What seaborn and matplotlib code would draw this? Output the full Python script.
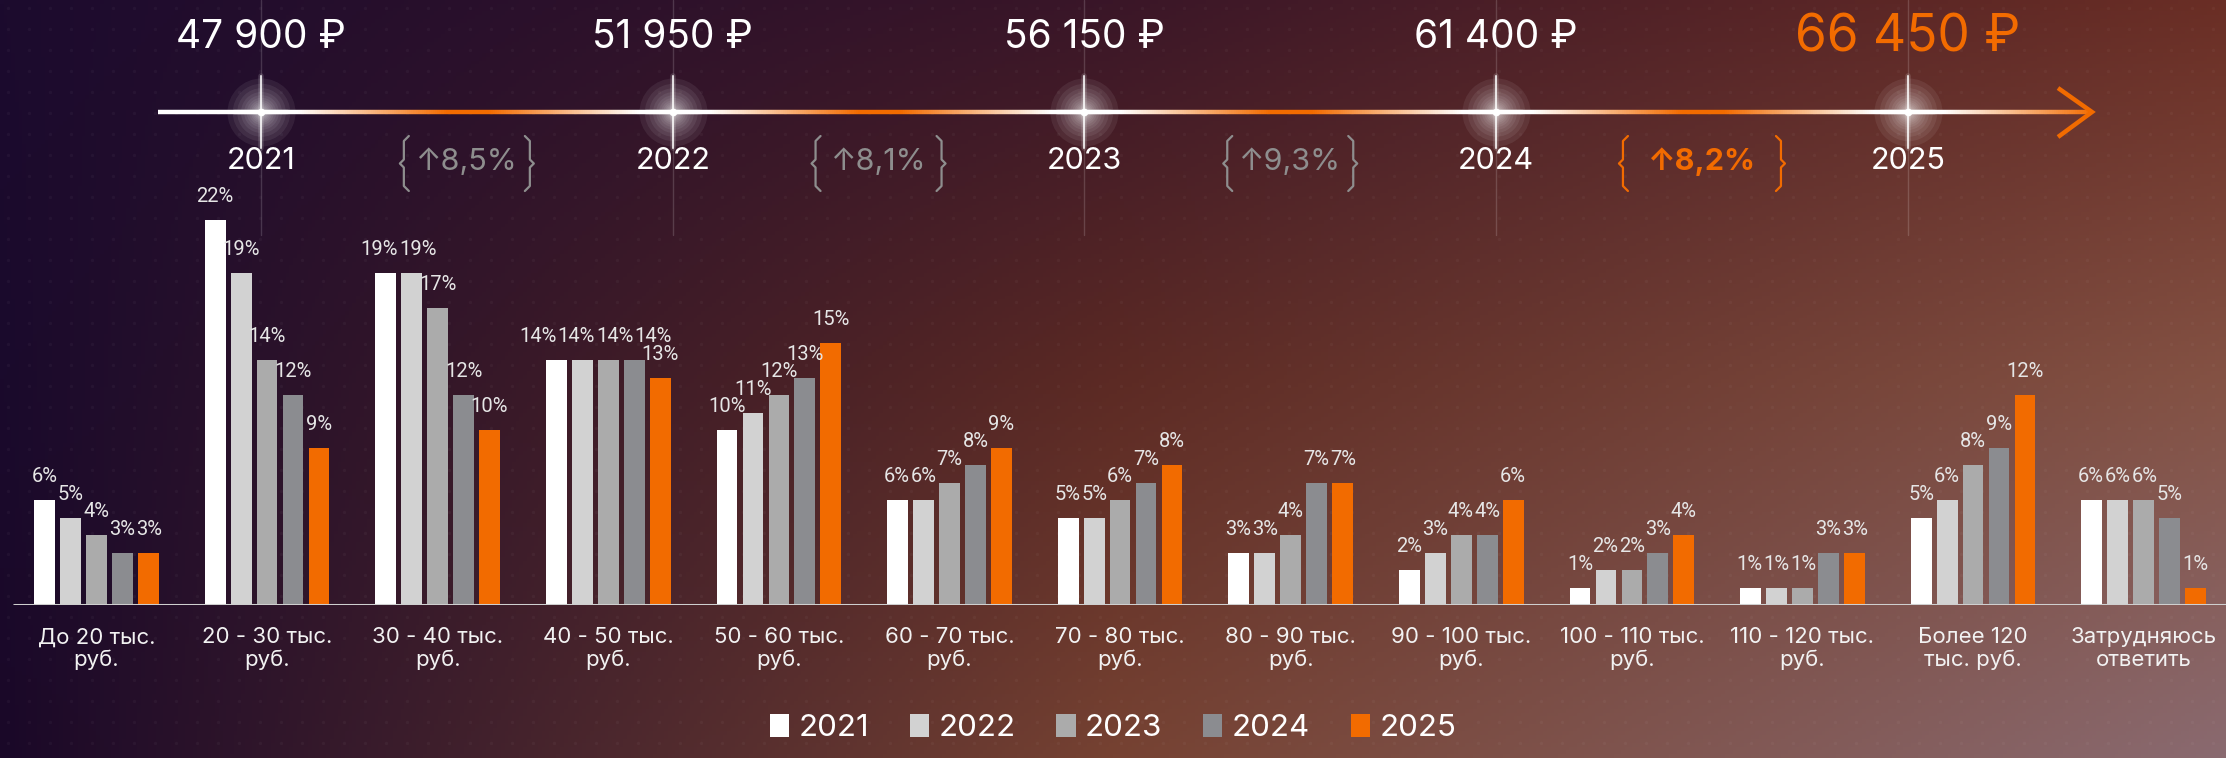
import numpy as np
import pandas as pd
import matplotlib
matplotlib.use("Agg")
import matplotlib.pyplot as plt
import seaborn as sns
from matplotlib.collections import LineCollection
from matplotlib.colors import to_rgb

# ---------------- data ----------------
categories = ["До 20 тыс.\nруб.", "20 - 30 тыс.\nруб.", "30 - 40 тыс.\nруб.",
              "40 - 50 тыс.\nруб.", "50 - 60 тыс.\nруб.", "60 - 70 тыс.\nруб.",
              "70 - 80 тыс.\nруб.", "80 - 90 тыс.\nруб.", "90 - 100 тыс.\nруб.",
              "100 - 110 тыс.\nруб.", "110 - 120 тыс.\nруб.", "Более 120\nтыс. руб.",
              "Затрудняюсь\nответить"]
years = ["2021", "2022", "2023", "2024", "2025"]
v2021 = [6, 22, 19, 14, 10, 6, 5, 3, 2, 1, 1, 5, 6]
v2022 = [5, 19, 19, 14, 11, 6, 5, 3, 3, 2, 1, 6, 6]
v2023 = [4, 14, 17, 14, 12, 7, 6, 4, 4, 2, 1, 8, 6]
v2024 = [3, 12, 12, 14, 13, 8, 7, 7, 4, 3, 3, 9, 5]
v2025 = [3, 9, 10, 13, 15, 9, 8, 7, 6, 4, 3, 12, 1]
salaries = ["47 900 ₽", "51 950 ₽", "56 150 ₽", "61 400 ₽", "66 450 ₽"]
growth = ["↑8,5%", "↑8,1%", "↑9,3%", "↑8,2%"]

colors = ["#ffffff", "#d2d2d2", "#ababab", "#8b8c90", "#f26b00"]
ORANGE = "#f26b00"

rows = []
for y, vals in zip(years, [v2021, v2022, v2023, v2024, v2025]):
    for c, v in zip(categories, vals):
        rows.append({"cat": c, "year": y, "val": v})
df = pd.DataFrame(rows)

# ---------------- figure ----------------
W, H = 2226, 758
sns.set_theme(style="white")
plt.rcParams["font.family"] = ["Inter", "DejaVu Sans"]
fig = plt.figure(figsize=(W / 100, H / 100), dpi=100)

# background gradient
bg = fig.add_axes([0, 0, 1, 1], zorder=-10)
ctrl = np.array([
    [to_rgb("#1c0b2e"), to_rgb("#3a1628"), to_rgb("#6a2e25")],
    [to_rgb("#1a0a2c"), to_rgb("#5c2a24"), to_rgb("#845244")],
    [to_rgb("#1a0828"), to_rgb("#764232"), to_rgb("#8a6a70")],
])
nx, ny = 600, 200
xs = np.linspace(0, 1, nx)
ys = np.linspace(0, 1, ny)
tmp = np.zeros((3, nx, 3))
for r in range(3):
    for ch in range(3):
        tmp[r, :, ch] = np.interp(xs, [0, 0.5, 1], ctrl[r, :, ch])
img = np.zeros((ny, nx, 3))
for ch in range(3):
    for i in range(nx):
        img[:, i, ch] = np.interp(ys, [0, 0.5, 1], tmp[:, i, ch])
bg.imshow(img, extent=[0, W, H, 0], aspect="auto")
gx, gy = np.meshgrid(np.arange(8, W, 21), np.arange(8, H, 21))
bg.scatter(gx.ravel(), gy.ravel(), s=6, color="white", alpha=0.035, linewidths=0)
bg.set_xlim(0, W)
bg.set_ylim(H, 0)
bg.axis("off")

# ---------------- bars ----------------
base_px = 605
top_px = 180
px_per_unit = 17.5
ax = fig.add_axes([0, (H - base_px) / H, 1, (base_px - top_px) / H])
ax.set_facecolor("none")
sns.barplot(data=df, x="cat", y="val", hue="year", order=categories, hue_order=years,
            palette=colors, saturation=1, width=0.76, gap=0.2, linewidth=0,
            ax=ax, legend=True)
pitch = 170.6
c0 = 96.5
xmin = -c0 / pitch
ax.set_xlim(xmin, xmin + W / pitch)
ax.set_ylim(0, (base_px - top_px) / px_per_unit)
for s in ax.spines.values():
    s.set_visible(False)
ax.axhline(0, xmin=14 / W, xmax=1, color="#cfcfcf", lw=2.2, zorder=5)
ax.set_yticks([])
ax.set_xlabel("")
ax.set_ylabel("")
ax.tick_params(axis="x", length=0, pad=16, labelsize=16, labelcolor="#f2f2f2")
for t in ax.get_xticklabels():
    t.set_linespacing(1.15)

# value labels, spread sideways inside each group where they would collide
label_pad_pt = 10
labels_by_group = [[] for _ in categories]
for cont in ax.containers:
    for gi, b in enumerate(cont):
        v = int(round(b.get_height()))
        t = ax.annotate(f"{v}%", xy=(b.get_x() + b.get_width() / 2, b.get_height()),
                        xytext=(0, label_pad_pt), textcoords="offset points",
                        ha="center", va="bottom", fontsize=14.5, color="#e6e6e6",
                        family=["Roboto", "DejaVu Sans"])
        labels_by_group[gi].append(t)

fig.canvas.draw()
renderer = fig.canvas.get_renderer()
for grp in labels_by_group:
    ext = [t.get_window_extent(renderer) for t in grp]
    xc = np.array([(e.x0 + e.x1) / 2 for e in ext])
    wd = np.array([e.width for e in ext])
    yb = np.array([e.y0 for e in ext])
    ht = np.array([e.height for e in ext])
    x0 = xc.copy()
    for _ in range(200):
        moved = False
        for i in range(len(grp) - 1):
            if abs(yb[i] - yb[i + 1]) < 0.8 * ht[i]:
                need = (wd[i] + wd[i + 1]) / 2 + 1 - (xc[i + 1] - xc[i])
                if need > 0.05:
                    xc[i] -= need / 2
                    xc[i + 1] += need / 2
                    moved = True
        if not moved:
            break
    for t, dx in zip(grp, xc - x0):
        t.set_position((dx * 72 / fig.dpi, label_pad_pt))

handles, labels = ax.get_legend_handles_labels()
ax.legend(handles, labels, loc="lower center", bbox_to_anchor=(0.5, 0.0),
          bbox_transform=fig.transFigure, ncol=5, frameon=False, fontsize=22.5,
          handlelength=0.62, handleheight=0.75, handletextpad=0.3,
          columnspacing=1.3, labelcolor="white", borderaxespad=0.1)

# ---------------- timeline ----------------
ov = fig.add_axes([0, 0, 1, 1], zorder=5)
ov.set_xlim(0, W)
ov.set_ylim(H, 0)
ov.axis("off")
ov.set_facecolor("none")

node_x0, node_step = 261, 411.7
nodes = [node_x0 + i * node_step for i in range(len(years))]
line_y = 112

xs_line = np.linspace(158, 2088, 900)
white = np.array([1, 1, 1])
orng = np.array(to_rgb(ORANGE))
cols = []
for x in xs_line:
    d = 0 if x < nodes[0] else min(abs(x - n) for n in nodes)
    w = np.clip(1 - (d - 35) / 150, 0, 1)
    cols.append(w * white + (1 - w) * orng)
pts = np.array([xs_line, np.full_like(xs_line, line_y)]).T.reshape(-1, 1, 2)
segs = np.concatenate([pts[:-1], pts[1:]], axis=1)
ov.add_collection(LineCollection(segs, colors=cols[:-1], linewidths=3.2, capstyle="butt"))
ov.plot([2058, 2092, 2058], [88, line_y, 137], color=ORANGE, lw=3.2,
        solid_joinstyle="miter", solid_capstyle="butt")

glow_sizes = np.geomspace(30, 2400, 14)
for i, n in enumerate(nodes):
    ov.plot([n, n], [0, 235], color="white", alpha=0.16, lw=1)
    for s in glow_sizes:
        ov.scatter([n], [line_y], s=s, color="white", alpha=0.07, linewidths=0, zorder=6)
    ov.scatter([n], [line_y], s=30, color="white", linewidths=0, zorder=7)
    for lw, a in [(4, 0.15), (1.5, 0.8)]:
        ov.plot([n - 26, n + 26], [line_y, line_y], color="white", lw=lw, alpha=a, zorder=6)
        ov.plot([n, n], [line_y - 36, line_y + 36], color="white", lw=lw, alpha=a, zorder=6)
    last = i == len(years) - 1
    ov.text(n, 38, salaries[i], ha="center", va="center",
            fontsize=37 if last else 28, color=ORANGE if last else "white",
            family=["Inter", "DejaVu Sans"])
    ov.text(n, 161, years[i], ha="center", va="center", fontsize=22, color="white")


def brace(x, color, left=True):
    top, bot = 136, 191
    mid = (top + bot) / 2
    s = 1 if left else -1
    xsb = [x + s * 6, x + s * 1, x + s * 1, x - s * 3, x + s * 1, x + s * 1, x + s * 6]
    ysb = [top, top + 5, mid - 4, mid, mid + 4, bot - 5, bot]
    ov.plot(xsb, ysb, color=color, lw=1.6)


for i, g in enumerate(growth):
    xc = (nodes[i] + nodes[i + 1]) / 2
    last = i == len(growth) - 1
    col = ORANGE if last else "#8e8e8e"
    half = 80 if last else 64
    ov.text(xc, 162, g, ha="center", va="center", fontsize=22, color=col,
            fontweight="bold" if last else "normal", family=["Inter", "DejaVu Sans"])
    brace(xc - half, col, left=True)
    brace(xc + half, col, left=False)

fig.savefig("out.png", dpi=100)
